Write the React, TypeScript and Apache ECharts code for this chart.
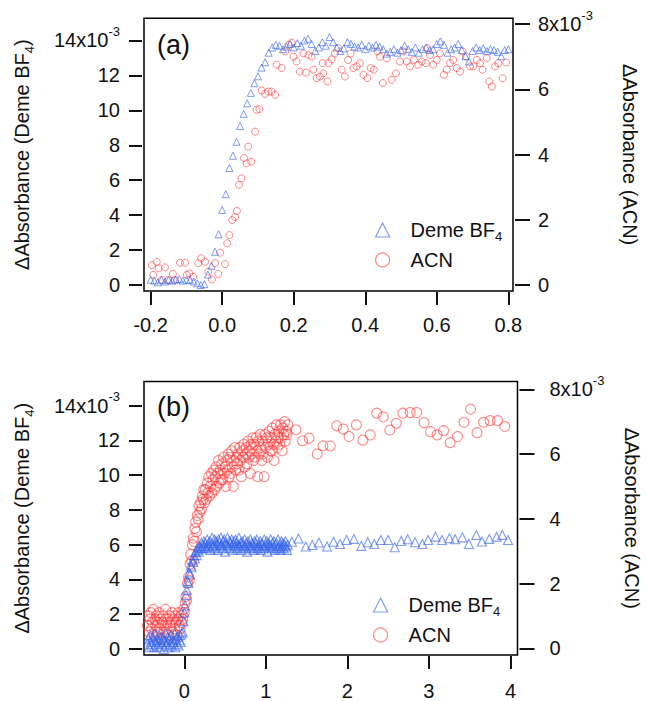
import React, { useEffect, useRef } from 'react';
import * as echarts from 'echarts';

const FONT = '"Liberation Sans", Arial, Helvetica, sans-serif';
const INK = '#111';
const BLUE = 'rgba(55,100,235,0.8)';
const RED = 'rgba(255,55,55,0.75)';

// ---------- Panel (a) ----------
const topXTicks = [-0.2, 0, 0.2, 0.4, 0.6, 0.8];
const topLeftTicks = [0, 2, 4, 6, 8, 10, 12, 14];
const topRightTicks = [0, 2, 4, 6, 8];
const topDemeStart = -0.2;
const topDemeStep = 0.01;
const topDemeY = [
  0.3, 0.25, 0.15, 0.3, 0.2, 0.3, 0.25, 0.3, 0.35, 0.25, 0.3, 0.3, 0.2, 0.1, 0.0, 0.05,
  0.6, 1.1, 1.9, 2.9, 4.3, 5.2, 6.7, 7.4, 8.2, 9.1, 9.8, 10.4, 11.0, 11.55, 11.95, 12.45, 12.75, 13.3, 13.6, 13.75,
  13.7, 13.5, 13.65, 13.8, 13.6, 13.85, 13.7, 14.0, 14.1, 13.8, 13.4, 13.6, 13.9, 13.7, 14.2, 13.9, 13.6, 13.4,
  13.55, 13.9, 13.8, 13.65, 13.6, 13.75, 13.5, 13.7, 13.6, 13.75, 13.65, 13.5, 13.25, 13.35, 13.5, 13.3, 13.45,
  13.7, 13.5, 13.35, 13.6, 13.3, 13.5, 13.6, 13.45, 13.5, 13.8, 13.95, 13.75, 13.3, 13.5, 13.6, 13.8, 13.45,
  13.1, 12.8, 13.4, 13.6, 13.45, 13.55, 13.4, 13.5, 13.45, 13.35, 13.1, 13.45, 13.5,
];
const topAcn = [
  [-0.197, 0.61], [-0.193, 0.31], [-0.183, 0.71], [-0.178, 0.51], [-0.169, 0.15], [-0.16, 0.54], [-0.151, 0.15],
  [-0.138, 0.34], [-0.132, 0.15], [-0.118, 0.68], [-0.104, 0.68], [-0.099, 0.31], [-0.092, 0.36], [-0.081, 0.25],
  [-0.067, 0.67], [-0.059, 0.82], [-0.048, 0.71], [-0.039, 0.41], [-0.029, 0.17], [-0.02, 0.67], [-0.011, 0.34],
  [-0.006, 0.99], [0.008, 0.64], [0.014, 1.28], [0.02, 1.53], [0.028, 1.99], [0.036, 2.08], [0.041, 2.27],
  [0.047, 3.07], [0.054, 3.27], [0.061, 3.89], [0.068, 3.73], [0.073, 4.24], [0.081, 3.78], [0.092, 4.7],
  [0.096, 5.37], [0.104, 5.39], [0.11, 5.96], [0.12, 5.86], [0.129, 5.93], [0.138, 5.93], [0.148, 5.83],
  [0.152, 6.75], [0.166, 6.65], [0.176, 7.16], [0.185, 7.36], [0.194, 7.43], [0.199, 7.0], [0.208, 6.85],
  [0.217, 6.54], [0.227, 7.1], [0.234, 6.51], [0.241, 7.05], [0.25, 7.0], [0.255, 6.6], [0.264, 6.34],
  [0.273, 6.39], [0.281, 6.8], [0.283, 6.49], [0.294, 6.24], [0.297, 6.8], [0.306, 6.92], [0.315, 7.1],
  [0.325, 7.26], [0.334, 6.6], [0.343, 6.39], [0.352, 6.9], [0.359, 7.1], [0.367, 6.65], [0.376, 6.7],
  [0.385, 6.8], [0.395, 6.44], [0.406, 6.34], [0.415, 6.65], [0.424, 6.6], [0.434, 7.16], [0.441, 7.0],
  [0.449, 6.19], [0.46, 6.95], [0.474, 6.29], [0.486, 6.49], [0.497, 6.85], [0.506, 7.16], [0.516, 6.85],
  [0.525, 6.7], [0.536, 6.9], [0.548, 6.75], [0.558, 6.85], [0.57, 6.8], [0.574, 7.26], [0.581, 7.05],
  [0.59, 6.75], [0.6, 6.9], [0.609, 7.1], [0.62, 6.44], [0.628, 6.6], [0.637, 6.8], [0.646, 6.9], [0.656, 6.65],
  [0.665, 6.54], [0.672, 7.16], [0.682, 7.0], [0.693, 6.7], [0.702, 6.7], [0.712, 6.9], [0.721, 6.8],
  [0.728, 6.6], [0.74, 6.95], [0.747, 6.24], [0.754, 6.08], [0.763, 6.7], [0.772, 6.8], [0.784, 6.34], [0.794, 6.82],
];

// ---------- Panel (b) ----------
const botXTicks = [0, 1, 2, 3, 4];
const botLeftTicks = [0, 2, 4, 6, 8, 10, 12, 14];
const botRightTicks = [0, 2, 4, 6, 8];
const botDenseStart = -0.45;
const botDenseStep = 0.01;
const botDemeDense = [
  0.3, 0.6, 0.1, 0.8, 0.4, 0.2, 0.7, 0.5, 0.1, 0.9, 0.3, 0.6, 0.2, 0.5, 0.8, 0.1, 0.4, 0.7, 0.3, 0.6, 0.0, 0.5,
  0.9, 0.2, 0.4, 0.7, 0.1, 0.6, 0.3, 0.8, 0.2, 0.5, 0.4, 0.9, 0.1, 0.6, 0.3, 0.7, 0.2, 0.5, 0.8, 0.4, 0.9,
  1.0, 1.6, 2.1, 2.5, 3.1, 3.4, 3.9, 3.8, 4.4, 4.3, 4.8, 4.7, 5.1, 5.0, 5.4, 5.2, 5.6, 5.4, 5.7, 5.9, 5.6, 5.9,
  5.8, 6.1, 5.8, 6.0, 6.2, 5.9,
  6.1, 5.8, 6.3, 6.0, 5.9, 6.2, 5.7, 6.1, 6.4, 5.9, 6.0, 6.3, 5.8, 6.2, 6.0, 5.7, 6.3, 6.1, 5.9, 6.4,
  6.0, 5.8, 6.2, 6.3, 5.6, 6.1, 6.0, 6.4, 5.9, 6.2, 5.8, 6.1, 6.3, 5.7, 6.0, 6.2, 5.9, 6.3, 6.1, 5.8,
  6.0, 6.4, 5.9, 6.1, 5.7, 6.2, 6.0, 5.8, 6.3, 5.9, 6.1, 5.6, 6.2, 6.0, 5.9, 6.3, 5.8, 6.1, 6.0, 5.7,
  6.2, 5.9, 6.1, 6.3, 5.8, 6.0, 5.9, 6.2, 5.7, 6.1, 6.0, 5.8, 6.3, 5.9, 6.0, 6.2, 5.6, 6.1, 5.9, 6.0,
  6.3, 5.8, 6.1, 5.9, 6.2, 5.7, 6.0, 6.1, 5.8, 6.3, 5.9, 6.0, 5.7, 6.2, 5.9, 6.1, 5.8, 6.0, 6.2, 5.9, 5.7, 6.0,
];
const botAcnDense = [
  0.7, 1.0, 0.5, 0.9, 1.1, 0.6, 0.8, 1.2, 0.4, 0.9, 0.7, 1.0, 0.5, 0.8, 1.1, 0.6, 0.9, 0.3, 0.8, 1.0, 0.7, 0.5,
  1.2, 0.8, 0.6, 0.9, 0.4, 1.0, 0.7, 0.8, 1.1, 0.5, 0.9, 0.6, 1.0, 0.8, 0.4, 0.9, 1.1, 0.7, 0.6, 1.0, 0.8,
  0.9, 1.2, 1.1, 1.4, 1.6, 1.5, 2.0, 2.2, 2.1, 2.6, 2.9, 2.7, 3.2, 3.4, 3.3, 3.7, 3.9, 3.6, 4.1, 4.0, 4.4, 4.2,
  4.5, 4.3, 4.7, 4.6, 4.9, 4.5,
  4.9, 4.6, 5.1, 4.8, 5.3, 4.7, 5.0, 5.4, 4.8, 5.2, 5.5, 4.9, 5.3, 5.6, 5.0, 5.4, 5.8, 5.1, 5.5, 5.2,
  5.7, 5.2, 5.9, 5.4, 5.6, 5.0, 5.8, 5.5, 6.0, 5.3, 5.9, 5.4, 6.1, 5.6, 5.0, 5.8, 6.2, 5.5, 5.9, 5.7,
  6.0, 5.5, 6.2, 5.8, 5.3, 6.1, 5.9, 6.3, 5.6, 6.0, 6.2, 5.7, 6.4, 5.9, 6.1, 5.4, 6.3, 6.0, 6.5, 5.8,
  6.3, 5.9, 6.5, 6.1, 5.3, 6.4, 6.0, 6.6, 6.2, 5.8, 6.4, 6.0, 5.3, 6.6, 6.2, 6.5, 5.9, 6.3, 6.7, 6.1,
  6.5, 6.1, 6.8, 6.3, 5.8, 6.6, 6.4, 6.9, 6.2, 6.5, 6.7, 6.3, 6.9, 6.5, 6.1, 6.8, 6.6, 7.0, 6.4, 6.7, 6.6, 6.9,
];
const botDemeSparse = [
  [1.32, 6.17], [1.4, 6.35], [1.49, 5.89], [1.57, 5.98], [1.65, 6.12], [1.75, 5.89], [1.83, 6.17], [1.91, 6.04],
  [1.99, 6.27], [2.08, 6.33], [2.17, 5.93], [2.25, 6.14], [2.33, 6.04], [2.41, 6.27], [2.5, 6.27], [2.58, 5.85],
  [2.66, 6.21], [2.74, 6.31], [2.83, 6.14], [2.92, 6.04], [2.99, 6.27], [3.08, 6.46], [3.16, 6.27], [3.25, 6.37],
  [3.32, 6.31], [3.41, 6.42], [3.49, 6.04], [3.58, 6.56], [3.65, 6.18], [3.74, 6.33], [3.83, 6.46], [3.9, 6.56],
  [3.97, 6.27],
];
const botAcnSparse = [
  [1.37, 6.75], [1.45, 6.41], [1.53, 6.49], [1.63, 6.0], [1.7, 6.25], [1.79, 6.25], [1.87, 6.87], [1.95, 6.77],
  [2.02, 6.54], [2.11, 6.9], [2.19, 6.43], [2.28, 6.59], [2.36, 7.26], [2.44, 7.15], [2.52, 6.74], [2.6, 6.95],
  [2.68, 7.26], [2.77, 7.28], [2.85, 7.28], [2.94, 6.97], [3.02, 6.69], [3.1, 6.59], [3.18, 6.72], [3.26, 6.35],
  [3.35, 6.54], [3.43, 6.98], [3.51, 7.39], [3.59, 6.66], [3.67, 6.98], [3.75, 7.03], [3.84, 7.03], [3.93, 6.85],
];

const SERIES_DEME = 'Deme BF4';
const SERIES_ACN = 'ACN';

function uniform(start: number, step: number, ys: number[]) {
  return ys.map((y, i) => [+(start + i * step).toFixed(4), y]);
}

const labelText = { fontFamily: FONT, fontSize: 20, color: INK };
const supRich = { sup: { fontFamily: FONT, fontSize: 13, lineHeight: 13, verticalAlign: 'top', color: INK } };
const subRich = { sub: { fontFamily: FONT, fontSize: 13, lineHeight: 13, verticalAlign: 'bottom', color: INK } };
const tickStyle = { color: '#111', width: 2 };

function xAxis(gridIndex: number, min: number, max: number, ticks: number[], fmt: (v: number) => string, margin: number) {
  return {
    gridIndex, type: 'value', min, max, position: 'bottom', offset: 1,
    axisLine: { show: false, onZero: false },
    axisTick: { show: true, length: 13, lineStyle: tickStyle, customValues: ticks },
    axisLabel: { ...labelText, customValues: ticks, formatter: fmt, margin },
    splitLine: { show: false },
  };
}

function yAxis(gridIndex: number, pos: string, min: number, max: number, ticks: number[], topVal: number,
  name: string, nameGap: number, margin: number, tickLen: number) {
  const left = pos === 'left';
  return {
    gridIndex, type: 'value', min, max, position: pos, offset: 2,
    axisLine: { show: false, onZero: false },
    axisTick: { show: true, length: tickLen, lineStyle: tickStyle, customValues: ticks },
    axisLabel: {
      ...labelText, lineHeight: 31, customValues: ticks, margin,
      formatter: (v: number) => (Math.abs(v - topVal) < 1e-9 ? `${v}x10{sup|-3}` : `${v}`),
      rich: supRich,
    },
    splitLine: { show: false },
    name, nameLocation: 'middle', nameGap, nameRotate: left ? 90 : -90,
    nameTextStyle: left ? { ...labelText, lineHeight: 28, rich: subRich } : { ...labelText, lineHeight: 20 },
  };
}

const legendData = [
  { name: SERIES_DEME, icon: 'triangle', itemStyle: { color: 'rgba(0,0,0,0)', borderColor: BLUE, borderWidth: 1.2 } },
  { name: SERIES_ACN, icon: 'circle', itemStyle: { color: 'rgba(0,0,0,0)', borderColor: RED, borderWidth: 1.2 } },
];

function legend(left: number, top: number) {
  return {
    left, top, orient: 'vertical', itemWidth: 14, itemHeight: 14, itemGap: 4,
    selectedMode: false, data: legendData,
    formatter: (n: string) => (n === SERIES_DEME ? 'Deme BF{sub|4}' : n),
    textStyle: { ...labelText, lineHeight: 26, padding: [0, 0, 0, 16], rich: subRich },
  };
}

function scatter(name: string, xi: number, yi: number, data: number[][], symbol: string, size: number, color: string, bw: number) {
  return {
    name, type: 'scatter', xAxisIndex: xi, yAxisIndex: yi, data, symbol, symbolSize: size,
    itemStyle: { color: 'rgba(0,0,0,0)', borderColor: color, borderWidth: bw },
    emphasis: { disabled: true }, silent: true,
  };
}

export default function App() {
  const ref = useRef<HTMLDivElement>(null);
  useEffect(() => {
    if (!ref.current) return;
    const chart = echarts.init(ref.current, undefined, { renderer: 'svg' });
    const name1 = 'ΔAbsorbance (Deme BF{sub|4})';
    const name2 = 'ΔAbsorbance (ACN)';
    const gridBase = { show: true, borderColor: '#000', borderWidth: 1.5, backgroundColor: 'transparent', containLabel: false, outerBoundsMode: 'none' };
    chart.setOption({
      animation: false,
      backgroundColor: '#fff',
      grid: [
        { ...gridBase, left: 144, top: 18.3, width: 369, height: 272.7 },
        { ...gridBase, left: 144, top: 381.5, width: 373.5, height: 273.5 },
      ],
      xAxis: [
        xAxis(0, -0.2187, 0.8131, topXTicks, (v: number) => v.toFixed(1), 23),
        xAxis(1, -0.494, 4.086, botXTicks, (v: number) => `${v}`, 24.5),
      ],
      yAxis: [
        yAxis(0, 'left', -0.344, 15.27, topLeftTicks, 14, name1, 106, 22, 13),
        yAxis(0, 'right', -0.184, 8.175, topRightTicks, 8, name2, 105, 23, 15),
        yAxis(1, 'left', -0.345, 15.38, botLeftTicks, 14, name1, 106, 22, 13),
        yAxis(1, 'right', -0.207, 8.24, botRightTicks, 8, name2, 102, 30, 15),
      ],
      legend: [legend(370, 212), legend(368, 587)],
      graphic: [
        { type: 'text', left: 157, top: 31, style: { text: '(a)', fontFamily: FONT, fontSize: 27, fill: INK } },
        { type: 'text', left: 157, top: 393, style: { text: '(b)', fontFamily: FONT, fontSize: 27, fill: INK } },
      ],
      series: [
        scatter(SERIES_ACN, 0, 1, topAcn, 'circle', 7, RED, 1),
        scatter(SERIES_DEME, 0, 0, uniform(topDemeStart, topDemeStep, topDemeY), 'triangle', 7, BLUE, 1),
        scatter(SERIES_ACN, 1, 3, [...uniform(botDenseStart, botDenseStep, botAcnDense), ...botAcnSparse], 'circle', 10, RED, 1.1),
        scatter(SERIES_DEME, 1, 2, [...uniform(botDenseStart, botDenseStep, botDemeDense), ...botDemeSparse], 'triangle', 9, BLUE, 1.1),
      ],
    });
    return () => chart.dispose();
  }, []);
  return <div ref={ref} style={{ position: 'absolute', left: 0, top: 0, width: 646, height: 701, background: '#fff' }} />;
}
